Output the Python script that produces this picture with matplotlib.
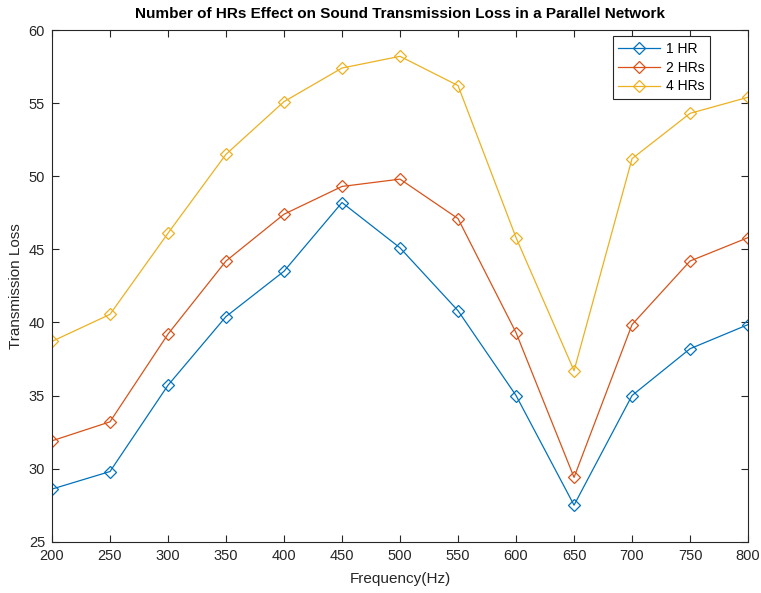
import numpy as np
import matplotlib.pyplot as plt

plt.rcParams['font.family'] = ['Liberation Sans', 'DejaVu Sans']

# Frecuencias (Hz) y perdida de transmision para cada configuracion
freq = [200, 250, 300, 350, 400, 450, 500, 550, 600, 650, 700, 750, 800]
tl_1hr = [28.6, 29.8, 35.7, 40.4, 43.5, 48.2, 45.1, 40.8, 35.0, 27.5, 35.0, 38.2, 39.85]
tl_2hr = [31.9, 33.2, 39.2, 44.2, 47.4, 49.3, 49.8, 47.1, 39.3, 29.4, 39.85, 44.2, 45.8]
tl_4hr = [38.7, 40.55, 46.1, 51.5, 55.1, 57.4, 58.2, 56.2, 45.8, 36.7, 51.2, 54.3, 55.4]

series = [("1 HR", tl_1hr, '#0072BD'),
          ("2 HRs", tl_2hr, '#D95319'),
          ("4 HRs", tl_4hr, '#EDB120')]

fig = plt.figure(figsize=(7.61, 5.93), dpi=100)
ax = fig.add_axes([0.0683, 0.0865, 0.9147, 0.8629])

for nombre, tl, col in series:
    ax.plot(freq, tl, color=col, lw=0.9, marker='D', markersize=6.5,
            markerfacecolor='none', markeredgecolor=col, markeredgewidth=0.9,
            label=nombre)

ax.set_xlim(200, 800)
ax.set_ylim(25, 60)
ax.set_xticks(np.arange(200, 801, 50))
ax.set_yticks(np.arange(25, 61, 5))

gris = '#262626'
for s in ax.spines.values():
    s.set_color(gris)
    s.set_linewidth(0.8)
ax.tick_params(direction='in', top=True, right=True, length=5, width=0.8,
               colors=gris, labelsize=10.5, pad=5)

ax.set_xlabel('Frequency(Hz)', fontsize=11, color=gris, labelpad=7)
ax.set_ylabel('Transmission Loss', fontsize=11, color=gris, labelpad=4)
ax.set_title('Number of HRs Effect on Sound Transmission Loss in a Parallel Network',
             fontsize=11, fontweight='bold', color='black', pad=9)

leg = ax.legend(loc='upper right', bbox_to_anchor=(0.945, 0.988), fontsize=10,
                frameon=True, fancybox=False, edgecolor=gris, framealpha=1,
                borderpad=0.4, labelspacing=0.35, handlelength=3.0,
                handletextpad=0.4, borderaxespad=0)
leg.get_frame().set_linewidth(0.8)

fig.savefig('out.png', dpi=100, facecolor='white')
